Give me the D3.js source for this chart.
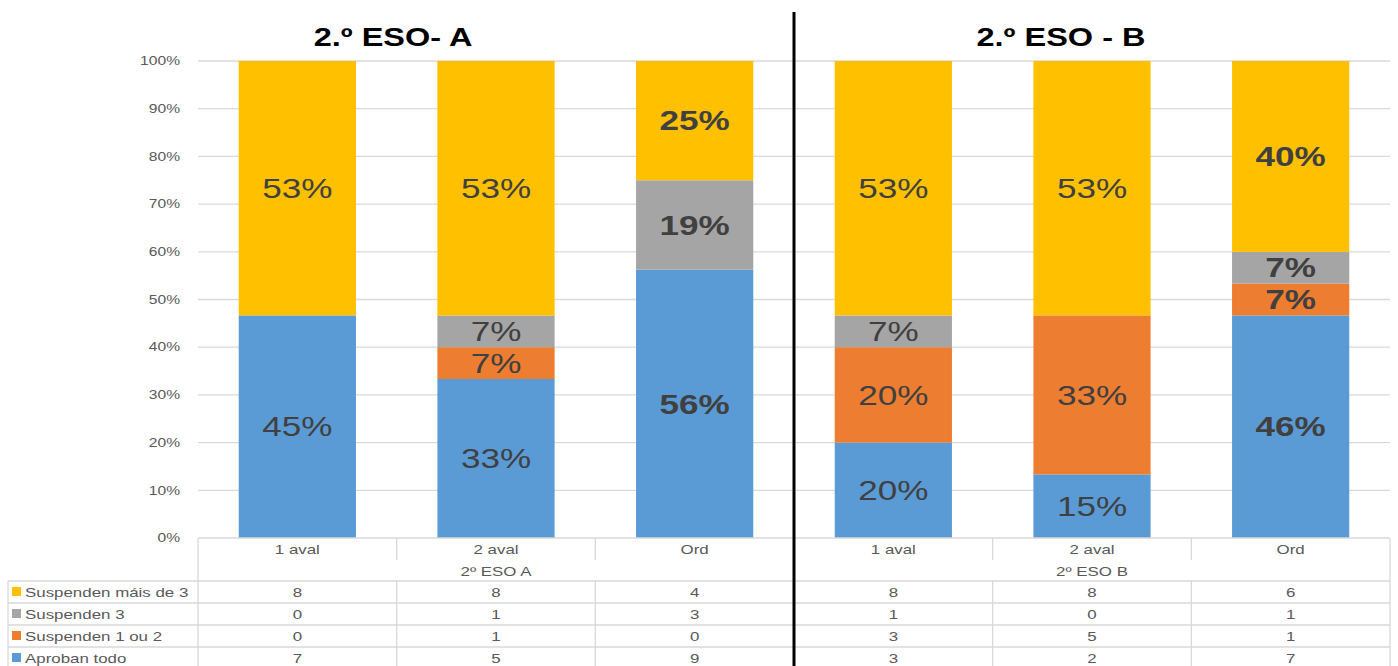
<!DOCTYPE html>
<html>
<head>
<meta charset="utf-8">
<script src="https://cdn.jsdelivr.net/npm/d3@7"></script>
<style>
  body { margin: 0; background: #fff; }
  text { font-family: "Liberation Sans", Arial, sans-serif; }
</style>
</head>
<body>
<script>
// data
var categories = ['1 aval', '2 aval', 'Ord', '1 aval', '2 aval', 'Ord'];
var groups = ['2º ESO A', '2º ESO B'];
var titles = ['2.º ESO- A', '2.º ESO - B'];
var seriesNames = ['Aproban todo', 'Suspenden 1 ou 2', 'Suspenden 3', 'Suspenden máis de 3'];
var seriesColors = ['#5B9BD5', '#ED7D31', '#A5A5A5', '#FFC000'];

var aprobanTodo = [7, 5, 9, 3, 2, 7];
var suspenden1ou2 = [0, 1, 0, 3, 5, 1];
var suspenden3 = [0, 1, 3, 1, 0, 1];
var suspendenMais3 = [8, 8, 4, 8, 8, 6];

// labels as printed on the bars
var labelsAproban = ['45%', '33%', '56%', '20%', '15%', '46%'];
var labels1ou2 = ['', '7%', '', '20%', '33%', '7%'];
var labels3 = ['', '7%', '19%', '7%', '', '7%'];
var labelsMais3 = ['53%', '53%', '25%', '53%', '53%', '40%'];
var boldColumns = [false, false, true, false, false, true];

var yTicks = [0, 0.1, 0.2, 0.3, 0.4, 0.5, 0.6, 0.7, 0.8, 0.9, 1];

var series = [aprobanTodo, suspenden1ou2, suspenden3, suspendenMais3];
var labels = [labelsAproban, labels1ou2, labels3, labelsMais3];

var W = 1398, H = 666;
var plotLeft = 198, plotRight = 1390, plotTop = 61, plotBottom = 538;
var SX = 1.3; // text in the picture is stretched sideways

var svg = d3.select('body').append('svg').attr('width', W).attr('height', H);

var x = d3.scaleBand().domain(d3.range(categories.length))
  .range([plotLeft, plotRight]).paddingInner(0.41).paddingOuter(0.205);
var y = d3.scaleLinear().domain([0, 1]).range([plotBottom, plotTop]);
var step = x.step();

function put(sel, px, py) {
  return sel.attr('transform', 'translate(' + px + ',' + py + ') scale(' + SX + ',1)');
}

// gridlines
svg.selectAll('line.grid').data(yTicks.slice(1)).enter().append('line')
  .attr('x1', plotLeft).attr('x2', plotRight)
  .attr('y1', function(d) { return y(d); }).attr('y2', function(d) { return y(d); })
  .attr('stroke', '#d9d9d9').attr('stroke-width', 1.3);

// y tick labels
svg.selectAll('text.ytick').data(yTicks).enter().append('text')
  .attr('text-anchor', 'end').attr('font-size', 12).attr('fill', '#595959')
  .attr('dy', '0.35em')
  .each(function(d) { put(d3.select(this), 180, y(d)); })
  .text(function(d) { return Math.round(d * 100) + '%'; });

// stack the counts as shares of each column
var rows = categories.map(function(c, i) {
  var total = d3.sum(series, function(s) { return s[i]; });
  var r = { i: i };
  series.forEach(function(s, k) { r[k] = s[i] / total; });
  return r;
});
var stack = d3.stack().keys(d3.range(series.length))(rows);

var layer = svg.selectAll('g.layer').data(stack).enter().append('g')
  .attr('fill', function(d, k) { return seriesColors[k]; });

layer.selectAll('rect').data(function(d) { return d; }).enter().append('rect')
  .attr('x', function(d) { return x(d.data.i); })
  .attr('width', x.bandwidth())
  .attr('y', function(d) { return y(d[1]); })
  .attr('height', function(d) { return y(d[0]) - y(d[1]); });

// bar labels
stack.forEach(function(s, k) {
  s.forEach(function(d) {
    var t = labels[k][d.data.i];
    if (!t) return;
    var cx = x(d.data.i) + x.bandwidth() / 2;
    var cy = (y(d[0]) + y(d[1])) / 2;
    put(svg.append('text'), cx, cy)
      .attr('text-anchor', 'middle').attr('dy', '0.36em')
      .attr('font-size', 27).attr('fill', '#404040')
      .attr('font-weight', boldColumns[d.data.i] ? 'bold' : 'normal')
      .text(t);
  });
});

// data table under the chart
var rowH = 22;
var headTop = plotBottom, catRowB = 560, grpRowB = 581;
var gridCol = '#d9d9d9';
var tbl = svg.append('g').attr('stroke', gridCol).attr('stroke-width', 1.3);

// horizontal lines
tbl.append('line').attr('x1', plotLeft).attr('x2', plotRight).attr('y1', headTop).attr('y2', headTop);
for (var r = 0; r <= series.length; r++) {
  var yy = grpRowB + r * rowH;
  tbl.append('line').attr('x1', 8).attr('x2', plotRight).attr('y1', yy).attr('y2', yy);
}
// vertical lines
var colEdges = d3.range(categories.length + 1).map(function(i) { return plotLeft + i * step; });
colEdges.forEach(function(cx, i) {
  tbl.append('line').attr('x1', cx).attr('x2', cx).attr('y1', headTop).attr('y2', catRowB);
  tbl.append('line').attr('x1', cx).attr('x2', cx).attr('y1', grpRowB).attr('y2', H);
  if (i % 3 === 0) tbl.append('line').attr('x1', cx).attr('x2', cx).attr('y1', catRowB).attr('y2', grpRowB);
});
tbl.append('line').attr('x1', 8).attr('x2', 8).attr('y1', grpRowB).attr('y2', H);

// category and group labels
categories.forEach(function(c, i) {
  put(svg.append('text'), plotLeft + (i + 0.5) * step, 549)
    .attr('text-anchor', 'middle').attr('dy', '0.35em')
    .attr('font-size', 13).attr('fill', '#595959').text(c);
});
groups.forEach(function(g, j) {
  put(svg.append('text'), plotLeft + (j * 3 + 1.5) * step, 571)
    .attr('text-anchor', 'middle').attr('dy', '0.35em')
    .attr('font-size', 13).attr('fill', '#595959').text(g);
});

// table rows: top row is the top series
var order = [3, 2, 1, 0];
order.forEach(function(k, r) {
  var cy = grpRowB + r * rowH + rowH / 2;
  svg.append('rect').attr('x', 12).attr('y', cy - 5).attr('width', 9).attr('height', 9)
    .attr('fill', seriesColors[k]);
  put(svg.append('text'), 25, cy)
    .attr('dy', '0.35em').attr('font-size', 13).attr('fill', '#595959')
    .text(seriesNames[k]);
  series[k].forEach(function(v, i) {
    put(svg.append('text'), plotLeft + (i + 0.5) * step, cy)
      .attr('text-anchor', 'middle').attr('dy', '0.35em')
      .attr('font-size', 13).attr('fill', '#595959').text(v);
  });
});

// divider between the two groups
var divX = plotLeft + 3 * step;
svg.append('line').attr('x1', divX).attr('x2', divX).attr('y1', 12).attr('y2', H)
  .attr('stroke', '#000').attr('stroke-width', 3);

// titles
var titleX = [393, 1061];
titles.forEach(function(t, j) {
  put(svg.append('text'), titleX[j], 46)
    .attr('text-anchor', 'middle').attr('font-size', 25).attr('font-weight', 'bold')
    .attr('fill', '#000').text(t);
});
</script>
</body>
</html>
